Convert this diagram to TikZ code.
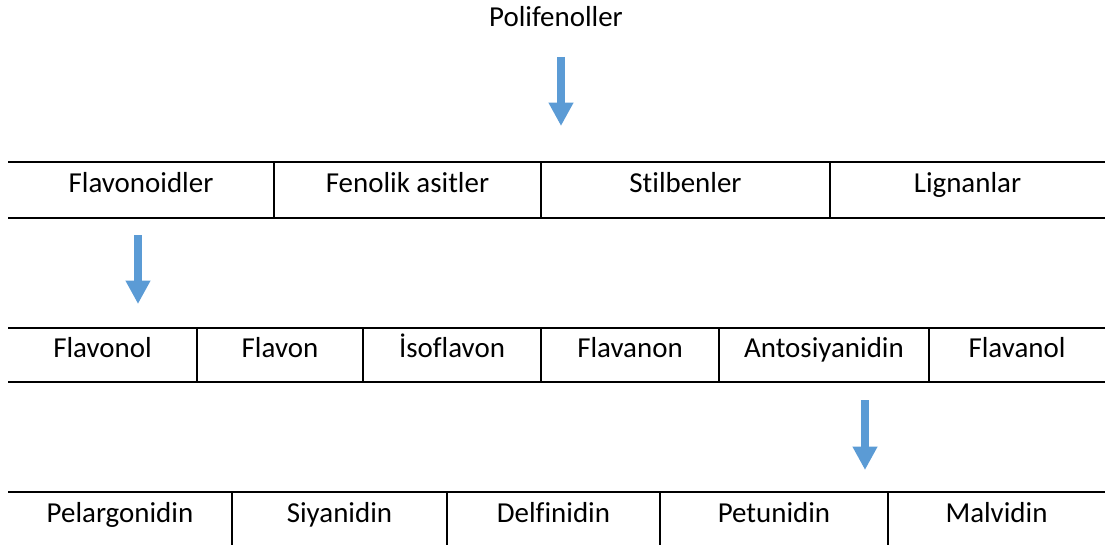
\documentclass[tikz,border=0pt]{standalone}
\usepackage{fontspec}
\setmainfont[Ligatures=NoCommon]{Carlito}
\usetikzlibrary{arrows.meta}
\definecolor{arrowblue}{HTML}{5B9BD5}
\begin{document}
\begin{tikzpicture}[x=0.75pt,y=-0.75pt,
  lbl/.style={anchor=base,inner sep=0pt,font=\fontsize{21.7pt}{26pt}\selectfont},
  rule/.style={line width=1.4pt,black},
  blockarrow/.style={draw=arrowblue,line width=6pt,-{Triangle[width=17.5pt,length=17.5pt]},arrowblue}]
\useasboundingbox (0,0) rectangle (1105,545);
% title
\node[lbl] (poli) at (556,27) {Polifenoller};
% arrow 1
\coordinate (a1s) at (561,57);
\coordinate (a1e) at (561,126);
\draw[blockarrow] (a1s) -- (a1e);
% table 1
\draw[rule] (8,162) -- (1105,162);
\draw[rule] (8,218) -- (1105,218);
\foreach \x in {274,541,830} \draw[rule] (\x,162) -- (\x,218);
\node[lbl] (flavonoidler) at (141,193) {Flavonoidler};
\node[lbl] (fenolik) at (407.5,193) {Fenolik asitler};
\node[lbl] (stilbenler) at (685.5,193) {Stilbenler};
\node[lbl] (lignanlar) at (967.5,193) {Lignanlar};
% arrow 2
\coordinate (a2s) at (138,235);
\coordinate (a2e) at (138,304);
\draw[blockarrow] (a2s) -- (a2e);
% table 2
\draw[rule] (8,328) -- (1105,328);
\draw[rule] (8,382) -- (1105,382);
\foreach \x in {197,363,541,719,929} \draw[rule] (\x,328) -- (\x,382);
\node[lbl] (flavonol) at (102.5,357) {Flavonol};
\node[lbl] (flavon) at (280,357) {Flavon};
\node[lbl] (isoflavon) at (452,357) {İsoflavon};
\node[lbl] (flavanon) at (630,357) {Flavanon};
\node[lbl] (antosiyanidin) at (824,357) {Antosiyanidin};
\node[lbl] (flavanol) at (1017,357) {Flavanol};
% arrow 3
\coordinate (a3s) at (865,400);
\coordinate (a3e) at (865,470);
\draw[blockarrow] (a3s) -- (a3e);
% table 3
\draw[rule] (8,492) -- (1105,492);
\foreach \x in {232,447,660,888} \draw[rule] (\x,492) -- (\x,545);
\node[lbl] (pelargonidin) at (120,522) {Pelargonidin};
\node[lbl] (siyanidin) at (339.5,522) {Siyanidin};
\node[lbl] (delfinidin) at (553.5,522) {Delfinidin};
\node[lbl] (petunidin) at (774,522) {Petunidin};
\node[lbl] (malvidin) at (996.5,522) {Malvidin};
\end{tikzpicture}
\end{document}
